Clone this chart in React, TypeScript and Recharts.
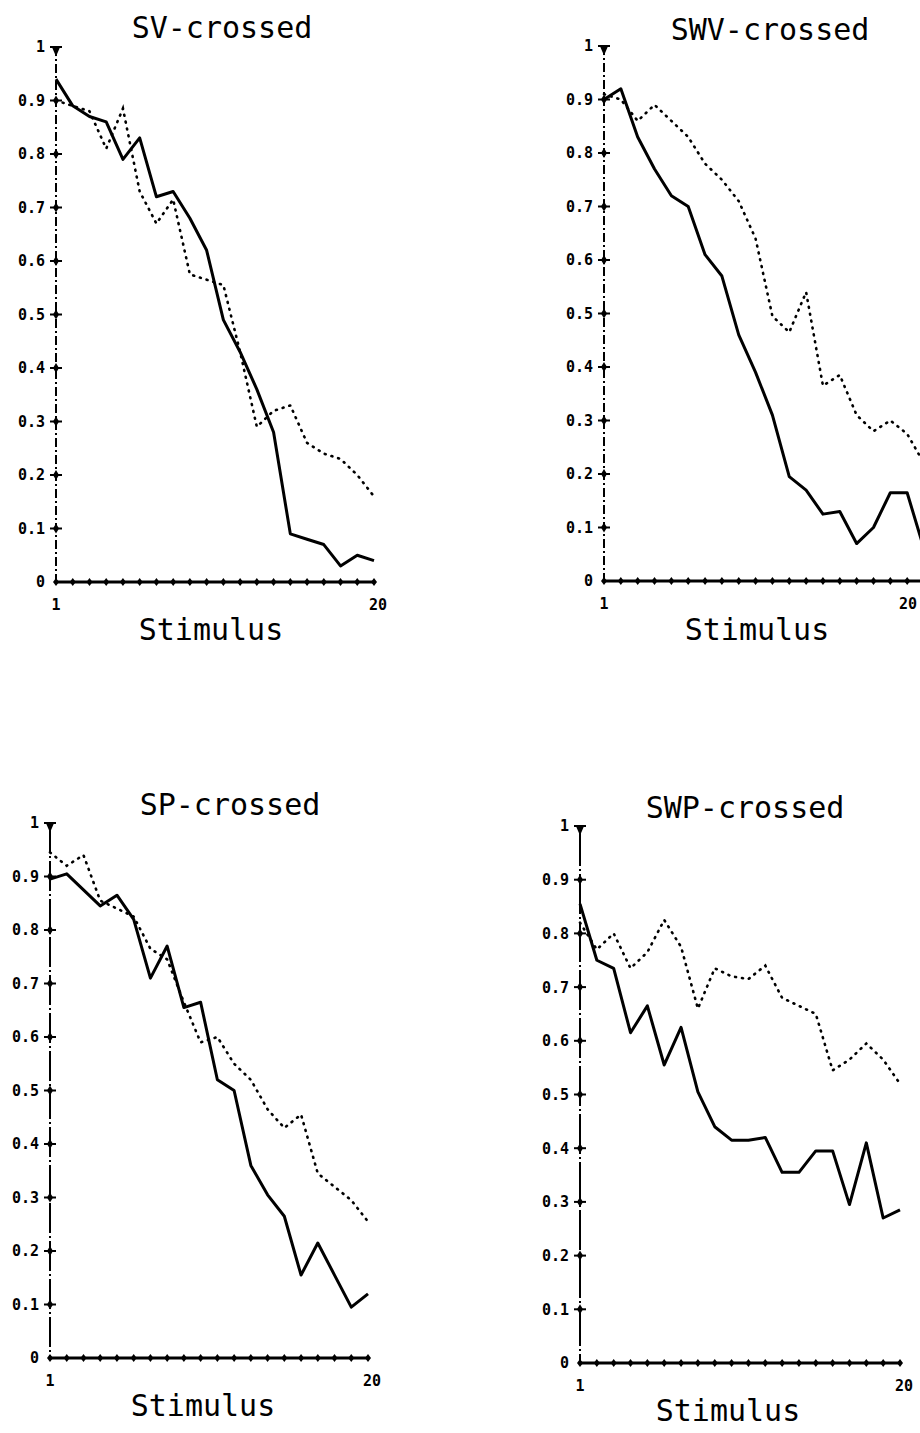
import React from 'react';
import { LineChart, Line, XAxis, YAxis } from 'recharts';

// x positions shared by all four panels
const stimulus = [1, 2, 3, 4, 5, 6, 7, 8, 9, 10, 11, 12, 13, 14, 15, 16, 17, 18, 19, 20];
const yTicks = [0, 0.1, 0.2, 0.3, 0.4, 0.5, 0.6, 0.7, 0.8, 0.9, 1];
const xLabelled = [1, 20];

// SV-crossed
const svSolid = [0.94, 0.89, 0.87, 0.86, 0.79, 0.83, 0.72, 0.73, 0.68, 0.62, 0.49, 0.43, 0.36, 0.28, 0.09, 0.08, 0.07, 0.03, 0.05, 0.04];
const svDotted = [0.9, 0.89, 0.88, 0.81, 0.885, 0.73, 0.67, 0.715, 0.575, 0.565, 0.555, 0.43, 0.29, 0.32, 0.33, 0.26, 0.24, 0.23, 0.2, 0.16];

// SWV-crossed
const swvSolid = [0.9, 0.92, 0.83, 0.77, 0.72, 0.7, 0.61, 0.57, 0.46, 0.39, 0.31, 0.195, 0.17, 0.125, 0.13, 0.07, 0.1, 0.165, 0.165, 0.06];
const swvDotted = [0.91, 0.9, 0.86, 0.89, 0.86, 0.83, 0.78, 0.75, 0.71, 0.64, 0.495, 0.465, 0.54, 0.365, 0.385, 0.31, 0.28, 0.3, 0.275, 0.22];

// SP-crossed
const spSolid = [0.895, 0.905, 0.875, 0.845, 0.865, 0.82, 0.71, 0.77, 0.655, 0.665, 0.52, 0.5, 0.36, 0.305, 0.265, 0.155, 0.215, 0.155, 0.095, 0.12];
const spDotted = [0.945, 0.92, 0.94, 0.855, 0.84, 0.825, 0.765, 0.745, 0.665, 0.59, 0.6, 0.55, 0.52, 0.465, 0.43, 0.455, 0.345, 0.32, 0.295, 0.255];

// SWP-crossed
const swpSolid = [0.855, 0.75, 0.735, 0.615, 0.665, 0.555, 0.625, 0.505, 0.44, 0.415, 0.415, 0.42, 0.355, 0.355, 0.395, 0.395, 0.295, 0.41, 0.27, 0.285];
const swpDotted = [0.82, 0.77, 0.8, 0.735, 0.765, 0.825, 0.775, 0.66, 0.735, 0.72, 0.715, 0.74, 0.68, 0.665, 0.65, 0.545, 0.565, 0.595, 0.565, 0.52];

const FONT = '"DejaVu Sans Mono", monospace';
const PAGE_W = 920;
const PAGE_H = 1433;
const PAD = { top: 14, right: 24, bottom: 34, left: 64 };

interface PanelSpec {
  title: string;
  solid: number[];
  dotted: number[];
  x1: number; // pixel x of stimulus 1
  x20: number; // pixel x of stimulus 20
  y1: number; // pixel y of value 1
  y0: number; // pixel y of value 0
  axisDash: string;
  titleX: number;
  titleY: number;
  footX: number;
  footY: number;
}

const panels: PanelSpec[] = [
  { title: 'SV-crossed', solid: svSolid, dotted: svDotted, x1: 56, x20: 374, y1: 47, y0: 582, axisDash: '9 3 2 3', titleX: 222, titleY: 38, footX: 211, footY: 640 },
  { title: 'SWV-crossed', solid: swvSolid, dotted: swvDotted, x1: 604, x20: 924, y1: 46, y0: 581, axisDash: '9 3 2 3', titleX: 770, titleY: 40, footX: 757, footY: 640 },
  { title: 'SP-crossed', solid: spSolid, dotted: spDotted, x1: 50, x20: 368, y1: 823, y0: 1358, axisDash: '30 3 2 3', titleX: 230, titleY: 815, footX: 203, footY: 1416 },
  { title: 'SWP-crossed', solid: swpSolid, dotted: swpDotted, x1: 580, x20: 900, y1: 826, y0: 1363, axisDash: '40 3 2 3', titleX: 745, titleY: 818, footX: 728, footY: 1421 },
];

function YTick({ x, y, payload }: any) {
  const v = payload.value as number;
  const label = v === 0 ? '0' : v === 1 ? '1' : v.toFixed(1);
  return (
    <g>
      {v === 1 && (
        <path
          d={`M${x - 6},${y} L${x + 6},${y} M${x - 3},${y} L${x + 3},${y} L${x},${y + 7} Z`}
          stroke="#000"
          strokeWidth={2}
          fill="#000"
        />
      )}
      {v > 0 && v < 1 && (
        <>
          <line x1={x - 6} x2={x + 6} y1={y} y2={y} stroke="#000" strokeWidth={2} />
          <path d={`M${x},${y - 5} L${x + 3},${y} L${x},${y + 5} L${x - 3},${y} Z`} fill="#000" />
        </>
      )}
      <text
        x={x - 11}
        y={y}
        dy="0.36em"
        textAnchor="end"
        fontFamily={FONT}
        fontWeight="bold"
        fontSize={15}
        fill="#000"
      >
        {label}
      </text>
    </g>
  );
}

// maxX keeps the end label inside the page when the axis runs off the right edge
function XTick({ x, y, payload, maxX }: any) {
  const v = payload.value as number;
  const lx = v === 20 ? Math.min(x + 4, maxX) : x;
  return (
    <g>
      <path d={`M${x},${y - 4} L${x + 3},${y} L${x},${y + 4} L${x - 3},${y} Z`} fill="#000" />
      {xLabelled.includes(v) && (
        <text
          x={lx}
          y={y + 23}
          dy="0.36em"
          textAnchor="middle"
          fontFamily={FONT}
          fontWeight="bold"
          fontSize={15}
          fill="#000"
        >
          {v}
        </text>
      )}
    </g>
  );
}

function Panel({ spec }: { spec: PanelSpec }) {
  const rows = stimulus.map((s, i) => ({ x: s, solid: spec.solid[i], dotted: spec.dotted[i] }));
  const left = spec.x1 - PAD.left;
  const width = spec.x20 - spec.x1 + PAD.left + PAD.right;
  const height = spec.y0 - spec.y1 + PAD.top + PAD.bottom;
  const maxX = PAGE_W - left - 12;
  return (
    <div style={{ position: 'absolute', left, top: spec.y1 - PAD.top, width, height }}>
      <LineChart
        width={width}
        height={height}
        data={rows}
        margin={{ top: PAD.top, right: PAD.right, bottom: 0, left: 0 }}
      >
        <XAxis
          dataKey="x"
          type="number"
          domain={[1, 20]}
          ticks={stimulus}
          interval={0}
          height={PAD.bottom}
          tickSize={0}
          tickMargin={0}
          tickLine={false}
          axisLine={{ stroke: '#000', strokeWidth: 3 }}
          tick={(props: any) => <XTick {...props} maxX={maxX} />}
        />
        <YAxis
          type="number"
          domain={[0, 1]}
          ticks={yTicks}
          interval={0}
          width={PAD.left}
          tickSize={0}
          tickMargin={0}
          tickLine={false}
          axisLine={{ stroke: '#000', strokeWidth: 2, strokeDasharray: spec.axisDash }}
          tick={<YTick />}
        />
        <Line
          type="linear"
          dataKey="dotted"
          stroke="#000"
          strokeWidth={2.6}
          strokeDasharray="1 6"
          strokeLinecap="round"
          dot={false}
          isAnimationActive={false}
        />
        <Line
          type="linear"
          dataKey="solid"
          stroke="#000"
          strokeWidth={3}
          strokeLinejoin="round"
          dot={false}
          isAnimationActive={false}
        />
      </LineChart>
    </div>
  );
}

export default function App() {
  return (
    <div
      style={{
        position: 'absolute',
        left: 0,
        top: 0,
        width: PAGE_W,
        height: PAGE_H,
        overflow: 'hidden',
        background: '#fff',
      }}
    >
      {panels.map((p) => (
        <Panel key={p.title} spec={p} />
      ))}
      <svg width={PAGE_W} height={PAGE_H} style={{ position: 'absolute', left: 0, top: 0, pointerEvents: 'none' }}>
        {panels.map((p) => (
          <g key={p.title} fontFamily={FONT} fontSize={30} fill="#000" textAnchor="middle">
            <text x={p.titleX} y={p.titleY}>{p.title}</text>
            <text x={p.footX} y={p.footY}>Stimulus</text>
          </g>
        ))}
      </svg>
    </div>
  );
}
